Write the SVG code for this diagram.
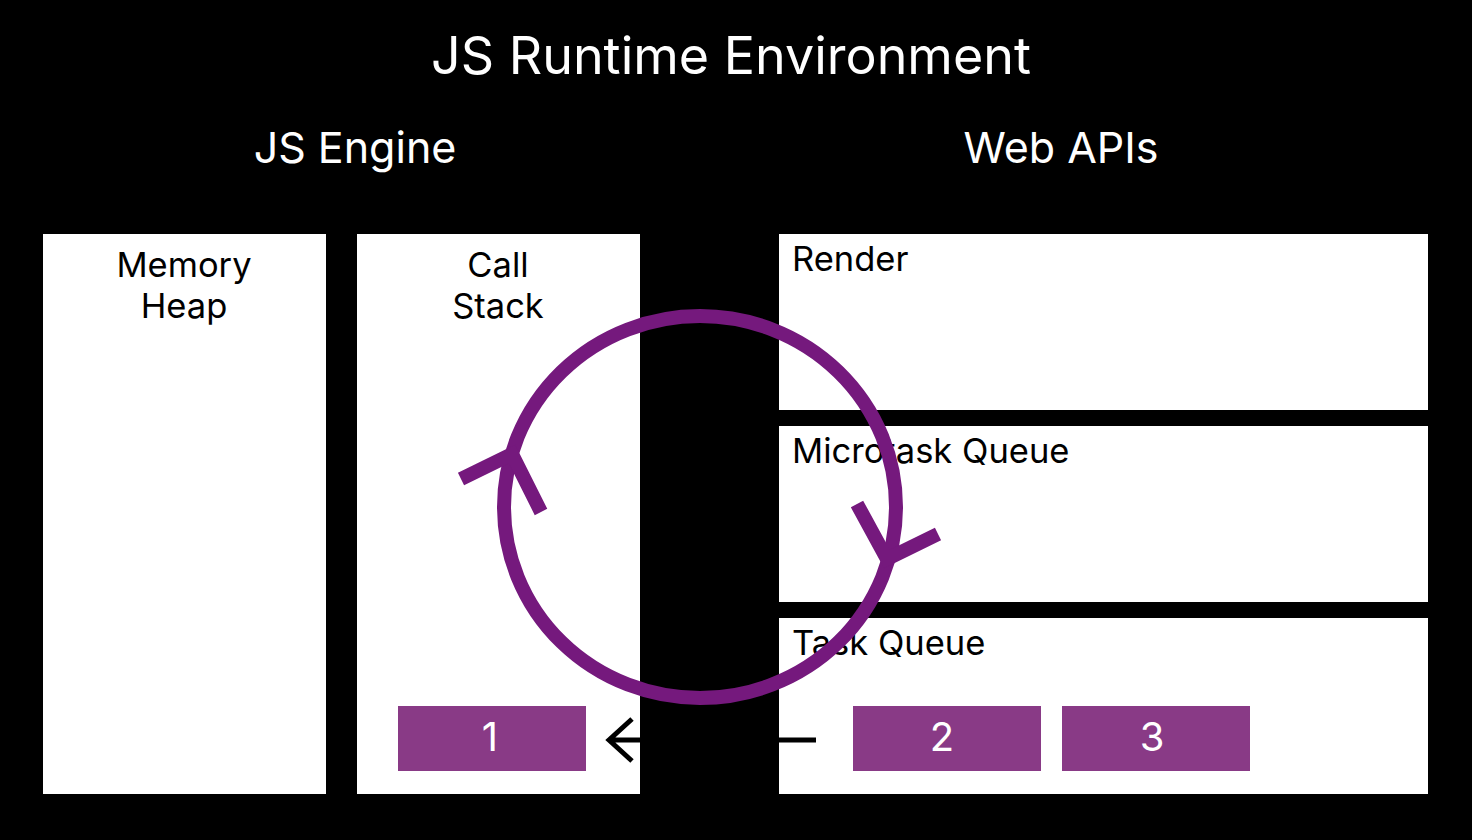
<svg xmlns="http://www.w3.org/2000/svg" width="1472" height="840" viewBox="0 0 1472 840">
<style>
.box{fill:#fff}
.job{fill:#893a86}
.t{font-family:Inter,"Liberation Sans",sans-serif;fill:#000}
.w{font-family:Inter,"Liberation Sans",sans-serif;fill:#fff}
.loop{fill:none;stroke:#75197d;stroke-width:14}
</style>
<rect width="1472" height="840" fill="#000"/>
<text class="w" x="731" y="74" font-size="52" text-anchor="middle">JS Runtime Environment</text>
<text class="w" x="355" y="163" font-size="43" text-anchor="middle">JS Engine</text>
<text class="w" x="1061" y="163" font-size="43" text-anchor="middle">Web APIs</text>
<g id="memory-heap">
<rect class="box" x="43" y="234" width="283" height="560"/>
<text class="t" x="184" y="277" font-size="34.5" text-anchor="middle">Memory</text>
<text class="t" x="184" y="318" font-size="34.5" text-anchor="middle">Heap</text>
</g>
<g id="call-stack">
<rect class="box" x="357" y="234" width="283" height="560"/>
<text class="t" x="498" y="277" font-size="34.5" text-anchor="middle">Call</text>
<text class="t" x="498" y="318" font-size="34.5" text-anchor="middle">Stack</text>
<rect class="job" x="398" y="706" width="188" height="65"/>
<text class="w" x="490" y="751" font-size="40" text-anchor="middle">1</text>
</g>
<g id="render">
<rect class="box" x="779" y="234" width="649" height="176"/>
<text class="t" x="792" y="271" font-size="34.5">Render</text>
</g>
<g id="microtask-queue">
<rect class="box" x="779" y="426" width="649" height="176"/>
<text class="t" x="792" y="463" font-size="34.5">Microtask Queue</text>
</g>
<g id="task-queue">
<rect class="box" x="779" y="618" width="649" height="176"/>
<text class="t" x="792" y="655" font-size="34.5">Task Queue</text>
<rect class="job" x="853" y="706" width="188" height="65"/>
<text class="w" x="942" y="751" font-size="40" text-anchor="middle">2</text>
<rect class="job" x="1062" y="706" width="188" height="65"/>
<text class="w" x="1152" y="751" font-size="40" text-anchor="middle">3</text>
</g>
<g id="connectors">
<path d="M816 740 H608 M632 719 L609 740 L632 761" fill="none" stroke="#000" stroke-width="5"/>
<ellipse class="loop" cx="700" cy="507" rx="196" ry="191"/>
<path class="loop" d="M461 479 L512 454 L541 512"/>
<path class="loop" d="M857 504 L887 559 L938 534"/>
</g>
</svg>
